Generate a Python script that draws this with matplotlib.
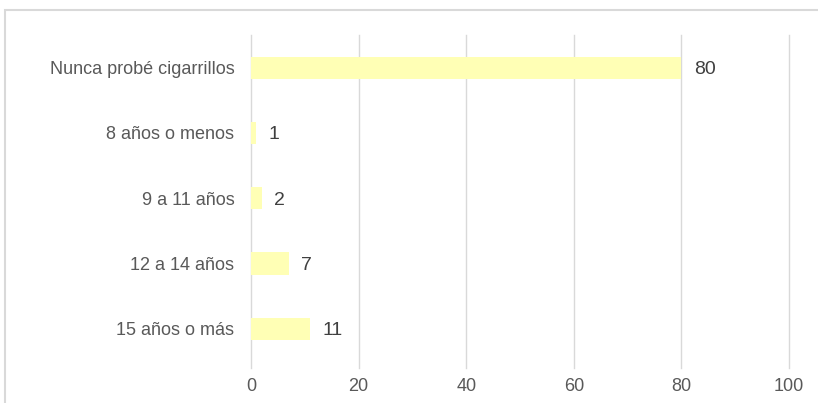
import matplotlib.pyplot as plt
from matplotlib.patches import Rectangle

plt.rcParams['font.family'] = ['Liberation Sans', 'DejaVu Sans']

categories = ['15 años o más', '12 a 14 años', '9 a 11 años', '8 años o menos', 'Nunca probé cigarrillos']
values = [11, 7, 2, 1, 80]
xticks = [0, 20, 40, 60, 80, 100]

fig = plt.figure(figsize=(8.18, 4.03), dpi=100)
W, H = 818, 403
ax = fig.add_axes([251 / W, 1 - 368 / H, (789 - 251) / W, (368 - 35) / H])

# outer chart frame (partly cropped in the reference)
fig.patches.append(Rectangle((5 / W, -0.1), 1.2, 1.1 - 10 / H, transform=fig.transFigure,
                             fill=False, edgecolor='#D9D9D9', linewidth=1.5, zorder=0))

ypos = range(len(categories))
ax.barh(ypos, values, height=0.34, color='#FFFFB5', zorder=2)
for y, v in zip(ypos, values):
    ax.text(v + 2.3, y, str(v), va='center_baseline', ha='left', fontsize=14, color='#404040')

ax.set_xlim(0, 100)
ax.set_ylim(-0.6, 4.5)
ax.set_xticks(xticks)
ax.set_yticks(list(ypos))
ax.set_yticklabels(categories)
ax.tick_params(axis='y', length=0, pad=12, labelsize=13, labelcolor='#595959')
ax.tick_params(axis='x', length=0, pad=7, labelsize=13, labelcolor='#595959')
ax.grid(axis='x', color='#D9D9D9', linewidth=1, zorder=0)
for gl in ax.get_xgridlines():
    gl.set_clip_on(False)
for s in ax.spines.values():
    s.set_visible(False)

fig.savefig('out.png', dpi=100)
